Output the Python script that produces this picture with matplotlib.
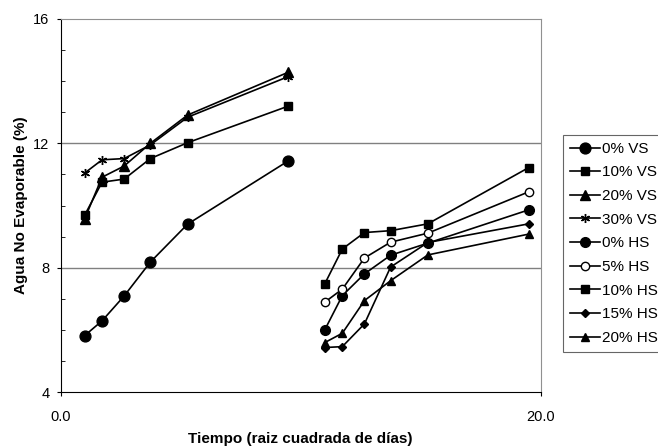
import matplotlib.pyplot as plt
from matplotlib.ticker import MultipleLocator

plt.rcParams["font.family"] = ["Liberation Sans", "DejaVu Sans"]

# tiempo = raiz cuadrada de dias; la serie HS esta desplazada 10 unidades
t_vs = [1.0, 1.73, 2.65, 3.74, 5.29, 9.49]
t_hs = [11.0, 11.73, 12.65, 13.74, 15.29, 19.49]

vs_0 = [5.81, 6.29, 7.09, 8.18, 9.40, 11.44]
vs_10 = [9.68, 10.75, 10.85, 11.51, 12.02, 13.20]
vs_20 = [9.56, 10.91, 11.27, 12.00, 12.91, 14.29]
vs_30 = [11.04, 11.47, 11.51, 11.95, 12.84, 14.15]

hs_0 = [6.00, 7.10, 7.80, 8.40, 8.79, 9.86]
hs_5 = [6.89, 7.31, 8.31, 8.82, 9.11, 10.44]
hs_10 = [7.48, 8.60, 9.13, 9.19, 9.41, 11.22]
hs_15 = [5.43, 5.46, 6.19, 8.02, 8.81, 9.41]
hs_20 = [5.59, 5.89, 6.94, 7.58, 8.41, 9.08]

fig = plt.figure(figsize=(6.58, 4.47), dpi=100)
ax = fig.add_axes([60.5 / 658, 55 / 447, 480.5 / 658, 373 / 447])

series = [
    (t_vs, vs_0, "0% VS", "o", 7.8, "black"),
    (t_vs, vs_10, "10% VS", "s", 6.0, "black"),
    (t_vs, vs_20, "20% VS", "^", 6.5, "black"),
    (t_vs, vs_30, "30% VS", (6, 2, 0), 6.5, "black"),
    (t_hs, hs_0, "0% HS", "o", 7.0, "black"),
    (t_hs, hs_5, "5% HS", "o", 6.0, "white"),
    (t_hs, hs_10, "10% HS", "s", 5.8, "black"),
    (t_hs, hs_15, "15% HS", "D", 4.5, "black"),
    (t_hs, hs_20, "20% HS", "^", 6.0, "black"),
]

for x, y, label, marker, size, face in series:
    ax.plot(x, y, color="black", linewidth=1.2, marker=marker, markersize=size,
            markerfacecolor=face, markeredgecolor="black", markeredgewidth=1.0,
            label=label, zorder=3)

ax.set_xlim(0, 20)
ax.set_ylim(4, 16)
ax.set_xticks([0, 20])
ax.set_xticklabels(["0.0", "20.0"])
ax.yaxis.set_major_locator(MultipleLocator(4))
ax.yaxis.set_minor_locator(MultipleLocator(1))
ax.tick_params(axis="both", which="major", direction="out", length=3, labelsize=10.5, color="black")
ax.tick_params(axis="y", which="minor", direction="in", length=3)
ax.tick_params(axis="x", pad=10)
ax.tick_params(axis="y", pad=5)

for v in [8, 12]:
    ax.axhline(v, color="#808080", linewidth=1.0, zorder=1)

ax.spines["top"].set_color("#909090")
ax.spines["right"].set_color("#909090")
ax.spines["left"].set_color("black")
ax.spines["bottom"].set_color("black")

ax.set_ylabel("Agua No Evaporable (%)", fontsize=11, fontweight="bold", labelpad=4)
ax.set_xlabel("Tiempo (raiz cuadrada de días)", fontsize=11, fontweight="bold", labelpad=6)

leg = fig.legend(loc="upper left", bbox_to_anchor=(563 / 658, 1 - 135 / 447),
                 bbox_transform=fig.transFigure, fontsize=11, frameon=True,
                 fancybox=False, edgecolor="#404040", labelspacing=0.63,
                 handlelength=2.0, handletextpad=0.1, borderpad=0.45,
                 borderaxespad=0)
leg.get_frame().set_linewidth(0.8)

fig.savefig("out.png", dpi=100)
